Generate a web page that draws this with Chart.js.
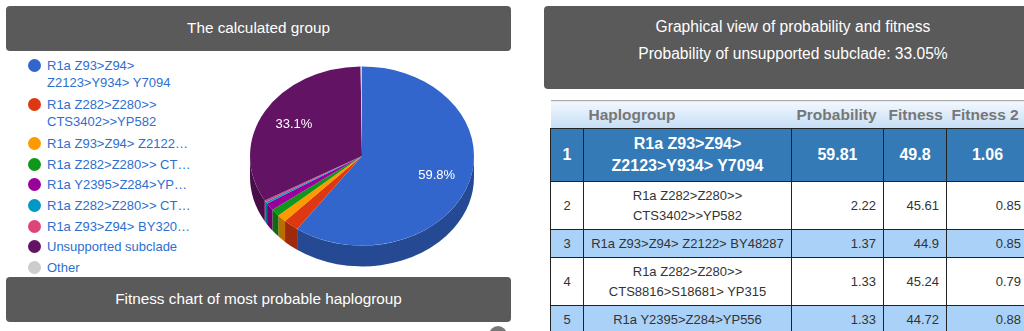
<!DOCTYPE html>
<html>
<head>
<meta charset="utf-8">
<script src="https://cdn.jsdelivr.net/npm/chart.js@4.4.1/dist/chart.umd.min.js"></script>
<style>
  body { margin: 0; background: #fff; font-family: Arial, "Liberation Sans", sans-serif; width: 1024px; height: 331px; overflow: hidden; position: relative; }
  .bar { position: absolute; background: #5a5a5a; color: #fff; border-radius: 4px; text-align: center; font-size: 15.3px; }
  #legend { position: absolute; left: 28px; top: 57px; width: 190px; font-size: 13px; color: #2d6fcf; }
  .item { position: relative; padding-left: 19px; line-height: 17px; margin-bottom: 3.7px; white-space: pre-line; }
  .item.wrap { margin-bottom: 5px; }
  .dot { position: absolute; left: 0; top: 2px; width: 13px; height: 13px; border-radius: 50%; }
  #pieBox { position: absolute; left: 250px; top: 44px; width: 224px; height: 224px; }
  table { position: absolute; left: 550px; top: 100px; border-collapse: collapse; table-layout: fixed; width: 478px; font-size: 13px; color: #333; }
  th { height: 27px; background: linear-gradient(#f2f8fe, #c6def6); color: #777; font-size: 15.5px; text-align: left; padding: 0 5px; border-top: 1px solid #aaa; white-space: nowrap; }
  td { border: 1px solid #222; padding: 0 7px; text-align: right; white-space: nowrap; }
  td.n, td.h { text-align: center; padding: 0 2px; }
  tr.top td { background: #337ab7; color: #fff; font-weight: bold; font-size: 16px; text-align: center; height: 52px; line-height: 22px; }
  tr.alt td { background: #aad2f9; }
  tr.two td { height: 47px; line-height: 20px; }
  tr.one td { height: 27px; }
  #btn { position: absolute; left: 489px; top: 326px; width: 18px; height: 18px; border-radius: 50%; background: #777; }
</style>
</head>
<body>
<div class="bar" style="left:6px;top:6px;width:505px;height:45px;line-height:43px;">The calculated group</div>
<div id="legend"></div>
<div id="pieBox"><canvas id="pie"></canvas></div>
<div class="bar" style="left:6px;top:277px;width:505px;height:45px;line-height:44px;">Fitness chart of most probable haplogroup</div>
<div id="btn"></div>

<div class="bar" style="left:544px;top:6px;width:498px;height:83px;font-size:15.6px;">
  <div style="margin-top:11px;line-height:20px;">Graphical view of probability and fitness</div>
  <div style="margin-top:7px;line-height:20px;">Probability of unsupported subclade: 33.05%</div>
</div>

<table>
  <colgroup><col style="width:33px"><col style="width:208px"><col style="width:92px"><col style="width:63px"><col style="width:82px"></colgroup>
  <thead>
    <tr><th></th><th>Haplogroup</th><th>Probability</th><th>Fitness</th><th>Fitness 2</th></tr>
  </thead>
  <tbody id="rows"></tbody>
</table>

<script>
// pie slices
const labels = [
    'R1a Z93>Z94>\nZ2123>Y934> Y7094',
    'R1a Z282>Z280>>\nCTS3402>>YP582',
    'R1a Z93>Z94> Z2122…',
    'R1a Z282>Z280>> CT…',
    'R1a Y2395>Z284>YP…',
    'R1a Z282>Z280>> CT…',
    'R1a Z93>Z94> BY320…',
    'Unsupported subclade',
    'Other'
];
const probabilities = [59.81, 2.22, 1.37, 1.33, 1.33, 0.35, 0.30, 33.05, 0.20];
const colors = ['#3366cc', '#dc3912', '#ff9900', '#109618', '#990099', '#0099c6', '#dd4477', '#631363', '#cccccc'];

// table
const tableHaplo = [
    'R1a Z93>Z94><br>Z2123>Y934> Y7094',
    'R1a Z282>Z280>><br>CTS3402>>YP582',
    'R1a Z93>Z94> Z2122> BY48287',
    'R1a Z282>Z280>><br>CTS8816>S18681> YP315',
    'R1a Y2395>Z284>YP556'
];
const tableProb = ['59.81', '2.22', '1.37', '1.33', '1.33'];
const tableFitness = ['49.8', '45.61', '44.9', '45.24', '44.72'];
const tableFitness2 = ['1.06', '0.85', '0.85', '0.79', '0.88'];

const squash = 0.8;
const depth = 26;

function darken(hex, f) {
    const n = parseInt(hex.slice(1), 16);
    const r = Math.round(((n >> 16) & 255) * f);
    const g = Math.round(((n >> 8) & 255) * f);
    const b = Math.round((n & 255) * f);
    return `rgb(${r},${g},${b})`;
}

// fake 3D: squash the pie and draw a side wall under it
const pie3d = {
    id: 'pie3d',
    beforeDatasetsDraw(chart) {
        const ctx = chart.ctx;
        const meta = chart.getDatasetMeta(0);
        const cy = meta.data[0].y;
        ctx.save();
        ctx.translate(0, cy);
        ctx.scale(1, squash);
        ctx.translate(0, -cy);
        meta.data.forEach((arc, i) => {
            const r = arc.outerRadius;
            [0, 2 * Math.PI].forEach(k => {
                const s = Math.max(arc.startAngle, k);
                const e = Math.min(arc.endAngle, k + Math.PI);
                if (e <= s) return;
                ctx.beginPath();
                ctx.arc(arc.x, arc.y, r, s, e);
                ctx.arc(arc.x, arc.y + depth, r, e, s, true);
                ctx.closePath();
                ctx.fillStyle = darken(colors[i], 0.72);
                ctx.fill();
            });
        });
    },
    afterDatasetsDraw(chart) {
        const ctx = chart.ctx;
        ctx.restore();
        const meta = chart.getDatasetMeta(0);
        const total = probabilities.reduce((a, b) => a + b, 0);
        ctx.save();
        ctx.font = '13px Arial, "Liberation Sans", sans-serif';
        ctx.fillStyle = '#fff';
        ctx.textAlign = 'center';
        ctx.textBaseline = 'middle';
        meta.data.forEach((arc, i) => {
            const pct = probabilities[i] / total * 100;
            if (pct < 5) return;
            const mid = (arc.startAngle + arc.endAngle) / 2;
            const lx = arc.x + Math.cos(mid) * arc.outerRadius * 0.7;
            const ly = arc.y + Math.sin(mid) * arc.outerRadius * 0.7 * squash;
            ctx.fillText(pct.toFixed(1) + '%', lx, ly);
        });
        ctx.restore();
    }
};

const pieChart = new Chart(document.getElementById('pie'), {
    type: 'pie',
    data: {
        labels,
        datasets: [{
            data: probabilities,
            backgroundColor: colors,
            borderWidth: 0
        }]
    },
    options: {
        responsive: true,
        maintainAspectRatio: false,
        animation: false,
        events: [],
        layout: { padding: 0 },
        plugins: {
            legend: { display: false },
            tooltip: { enabled: false }
        }
    },
    plugins: [pie3d]
});

// html legend from the chart data
const legend = document.getElementById('legend');
pieChart.data.labels.forEach((lab, i) => {
    const div = document.createElement('div');
    div.className = lab.includes('\n') ? 'item wrap' : 'item';
    div.innerHTML = `<span class="dot" style="background:${colors[i]}"></span>`;
    div.appendChild(document.createTextNode(lab));
    legend.appendChild(div);
});

// table rows
const tbody = document.getElementById('rows');
tableHaplo.forEach((h, i) => {
    const tr = document.createElement('tr');
    let cls = i === 0 ? 'top' : (i % 2 === 0 ? 'alt' : '');
    cls += h.includes('<br>') && i > 0 ? ' two' : (i > 0 ? ' one' : '');
    tr.className = cls;
    tr.innerHTML = `<td class="n">${i + 1}</td><td class="h">${h}</td><td>${tableProb[i]}</td><td>${tableFitness[i]}</td><td>${tableFitness2[i]}</td>`;
    tbody.appendChild(tr);
});
</script>
</body>
</html>
